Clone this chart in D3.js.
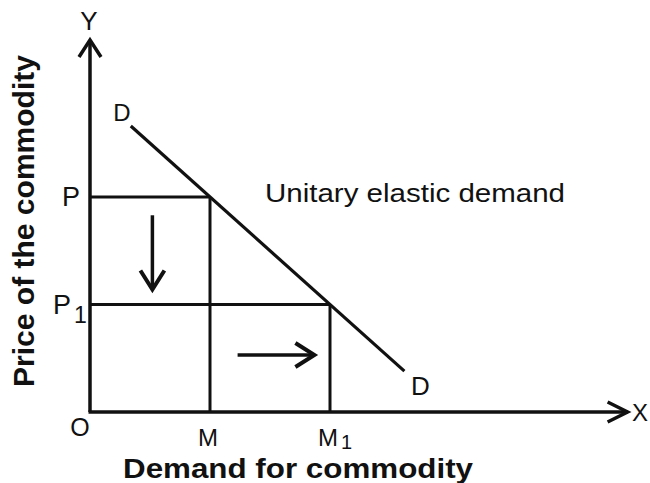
<!DOCTYPE html>
<html>
<head>
<meta charset="utf-8">
<script src="https://cdn.jsdelivr.net/npm/d3@7"></script>
<style>
  body { margin: 0; background: #fff; }
  text { font-family: "Liberation Sans", Arial, sans-serif; fill: #111; }
</style>
</head>
<body>
<script>
// quantity (x) and price (y) in chart units
let quantities = [10, 20];          // M, M1
let qLabels = ["M", "M1"];
let prices = [20, 10];              // P, P1
let pLabels = ["P", "P1"];
let demandQ = [3.4, 26.2];          // ends of the D-D line
let demandP = [26.6, 3.8];
let downArrow = {q: [5.2, 5.2], p: [18.3, 11.4]};
let rightArrow = {q: [12.3, 18.7], p: [5.3, 5.3]};
let axisMax = {q: 44.8, p: 34.6};

let x = d3.scaleLinear().domain([0, 10]).range([90, 210]);
let y = d3.scaleLinear().domain([0, 10]).range([412, 304.5]);

let svg = d3.select("body").append("svg").attr("width", 650).attr("height", 483);

// chevron arrow head drawn at (tx,ty) pointing along angle
function chevron(tx, ty, ang, len, half) {
  let c = Math.cos(ang), s = Math.sin(ang);
  let bx = tx - c * len, by = ty - s * len;
  return "M" + (bx - s * half) + "," + (by + c * half) + "L" + tx + "," + ty + "L" + (bx + s * half) + "," + (by - c * half);
}

// guide lines P-M box and P1-M1 box
quantities.forEach((q, i) => {
  svg.append("line")
    .attr("x1", x(0)).attr("y1", y(prices[i]))
    .attr("x2", x(q)).attr("y2", y(prices[i]))
    .attr("stroke", "#111").attr("stroke-width", 3);
  svg.append("line")
    .attr("x1", x(q)).attr("y1", y(0))
    .attr("x2", x(q)).attr("y2", y(prices[i]))
    .attr("stroke", "#111").attr("stroke-width", 3);
});

// axes
svg.append("line")
  .attr("x1", x(0)).attr("y1", y(0)).attr("x2", x(0)).attr("y2", y(axisMax.p))
  .attr("stroke", "#111").attr("stroke-width", 3.5);
svg.append("line")
  .attr("x1", x(0) - 1.5).attr("y1", y(0)).attr("x2", x(axisMax.q)).attr("y2", y(0))
  .attr("stroke", "#111").attr("stroke-width", 3.5);
svg.append("path")
  .attr("d", chevron(x(0), y(axisMax.p), -Math.PI / 2, 17, 11))
  .attr("fill", "none").attr("stroke", "#111").attr("stroke-width", 3.5);
svg.append("path")
  .attr("d", chevron(x(axisMax.q), y(0), 0, 20, 10))
  .attr("fill", "none").attr("stroke", "#111").attr("stroke-width", 3.5);

// demand curve
svg.append("line")
  .attr("x1", x(demandQ[0])).attr("y1", y(demandP[0]))
  .attr("x2", x(demandQ[1])).attr("y2", y(demandP[1]))
  .attr("stroke", "#111").attr("stroke-width", 3.2);

// movement arrows
[downArrow, rightArrow].forEach(a => {
  let x1 = x(a.q[0]), y1 = y(a.p[0]), x2 = x(a.q[1]), y2 = y(a.p[1]);
  svg.append("line")
    .attr("x1", x1).attr("y1", y1).attr("x2", x2).attr("y2", y2)
    .attr("stroke", "#111").attr("stroke-width", 3.5);
  svg.append("path")
    .attr("d", chevron(x2, y2, Math.atan2(y2 - y1, x2 - x1), 19, 12))
    .attr("fill", "none").attr("stroke", "#111").attr("stroke-width", 4);
});

// price labels
pLabels.forEach((l, i) => {
  let t = svg.append("text")
    .attr("x", l.length > 1 ? 53 : 62).attr("y", y(prices[i]) + 9)
    .attr("font-size", 27);
  t.append("tspan").text(l[0]);
  if (l.length > 1) t.append("tspan").attr("dx", 3).attr("dy", 9).attr("font-size", 23).text(l.slice(1));
});

// quantity labels
qLabels.forEach((l, i) => {
  let t = svg.append("text")
    .attr("x", x(quantities[i]) - 12).attr("y", 446)
    .attr("font-size", 24);
  t.append("tspan").text(l[0]);
  if (l.length > 1) t.append("tspan").attr("dx", 3).attr("dy", 3).attr("font-size", 20).text(l.slice(1));
});

svg.append("text").attr("x", 80).attr("y", 436).attr("text-anchor", "middle").attr("font-size", 25).text("O");
svg.append("text").attr("x", 89).attr("y", 30).attr("text-anchor", "middle").attr("font-size", 26).text("Y");
svg.append("text").attr("x", 632).attr("y", 421).attr("font-size", 24).text("X");
svg.append("text").attr("x", x(demandQ[0]) - 9).attr("y", y(demandP[0]) - 5).attr("text-anchor", "middle").attr("font-size", 24).text("D");
svg.append("text").attr("x", x(demandQ[1]) + 16).attr("y", y(demandP[1]) + 24).attr("text-anchor", "middle").attr("font-size", 26).text("D");

svg.append("text")
  .attr("x", 265).attr("y", 202)
  .attr("font-size", 26)
  .attr("textLength", 300).attr("lengthAdjust", "spacingAndGlyphs")
  .text("Unitary elastic demand");

svg.append("text")
  .attr("x", 123).attr("y", 478)
  .attr("font-size", 28).attr("font-weight", "bold")
  .attr("textLength", 350).attr("lengthAdjust", "spacingAndGlyphs")
  .text("Demand for commodity");

svg.append("text")
  .attr("transform", "translate(34,387) rotate(-90)")
  .attr("font-size", 29).attr("font-weight", "bold")
  .attr("textLength", 332).attr("lengthAdjust", "spacingAndGlyphs")
  .text("Price of the commodity");
</script>
</body>
</html>
